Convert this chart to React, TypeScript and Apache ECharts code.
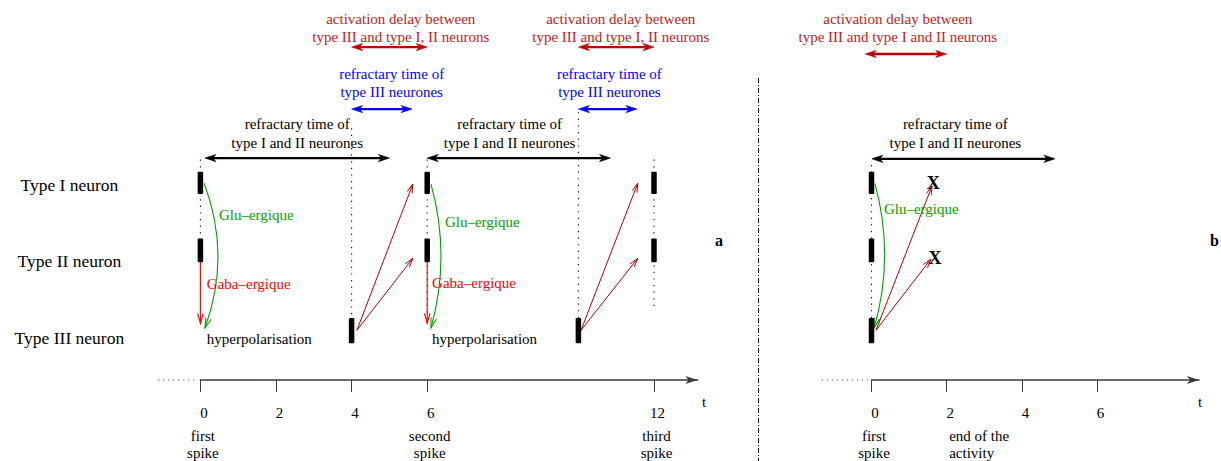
import React, { useEffect, useRef } from "react";
import * as echarts from "echarts";

// ---------- data ----------
const ROW_LABELS = ["Type III neuron", "Type II neuron", "Type I neuron"]; // rows 1, 2, 3
const ROW_VALUES = [1, 2, 3];
const TICKS_A = [0, 2, 4, 6, 12];
const TICKS_B = [0, 2, 4, 6];
const T_MAX_A = 13.15;
const T_MAX_B = 8.71;
const Y_MIN = 0.45;
const Y_MAX = 5.35;
const AXIS_NAME = "t";

// spikes: [time, row]
const SPIKES_A = [[0, 3], [0, 2], [4, 1], [6, 3], [6, 2], [10, 1], [12, 3], [12, 2]];
const SPIKES_B = [[0, 3], [0, 2], [0, 1]];

// dotted guides: [time, from, to]
const GUIDES_A = [[0, 3.33, 1.19], [4, 3.74, 1.26], [6, 3.33, 1.19], [10, 3.95, 1.26], [12, 3.33, 1.4]];
const GUIDES_B = [[0, 3.26, 1.24]];

// type III -> type I / II projections: [t0, v0, t1, v1]
const PROJ_A = [
  [4.14, 1.1, 5.62, 3.01], [4.14, 1.1, 5.62, 2.04],
  [10.07, 1.1, 11.57, 3.02], [10.07, 1.1, 11.57, 2.04],
];
const PROJ_B = [[0.12, 1.1, 1.61, 2.985], [0.12, 1.1, 1.58, 2.03]];

// glutamatergic curves: [t0, v0, tc, vc, t1, v1]
const GLU_A = [[0.1, 3.02, 0.82, 2.07, 0.12, 1.13], [6.1, 3.01, 6.63, 2.07, 6.1, 1.13]];
const GLU_B = [[0.09, 3.02, 0.62, 2.07, 0.07, 1.13]];

// gabaergic arrows: [t, v0, v1]
const GABA_A = [[0, 2.0, 1.19], [6, 2.0, 1.19]];

// failed activations: [t, v]
const FAILS_B = [[1.64, 3.02], [1.69, 2.04]];

// annotation intervals: [from, to, label centre]
const DELAY_A = [[4, 6, 5.3], [10, 12, 11.12]];
const DELAY_B = [[-0.17, 2.0, 0.7]];
const REFR3_A = [[4, 5.6, 5.06], [10, 11.55, 10.82]];
const REFR12_A = [[0.12, 5.0, 2.56], [6, 10.85, 8.18]];
const REFR12_B = [[0.01, 4.88, 2.23]];

// in-diagram labels: [t, v]
const GLU_LABELS_A = [[0.49, 2.61], [6.47, 2.51]];
const GLU_LABELS_B = [[0.33, 2.68]];
const GABA_LABELS_A = [[0.17, 1.7], [6.13, 1.72]];
const HYPER_LABELS_A = [[0.17, 0.99], [6.13, 0.99]];

// spike names under the time axis
const EVENT_T_A = [[0], [6], [12]];
const EVENT_NAMES_A = ["first\nspike", "second\nspike", "third\nspike"];
const EVENT_T_B = [[0], [2]];
const EVENT_NAMES_B = ["first\nspike", "end of the\nactivity"];
const EVENT_ALIGN_B = ["center", "left"];

// dotted lead-in of the time axes: [from, to]
const LEAD_A = [[-1.12, -0.06]];
const LEAD_B = [[-1.32, -0.04]];

// ---------- styles ----------
const FONT = "'Liberation Serif', 'Times New Roman', serif";
const SPIKE_EXTENT: Record<number, [number, number]> = { 3: [-0.12, 0.17], 2: [-0.01, 0.3], 1: [-0.07, 0.26] };
const RED_TEXT = "#c41a1a";
const RED_LINE = "#c00000";
const BLUE = "#0000ff";
const GREEN = "#00a000";
const GABA = "#ff0000";
const PROJ = "#b00000";

function head(x1: number, y1: number, x2: number, y2: number, len: number, half: number) {
  const dx = x2 - x1, dy = y2 - y1;
  const L = Math.hypot(dx, dy) || 1;
  const ux = dx / L, uy = dy / L;
  const bx = x2 - ux * len, by = y2 - uy * len;
  return {
    left: [bx - uy * half, by + ux * half],
    tip: [x2, y2],
    right: [bx + uy * half, by - ux * half],
    notch: [x2 - ux * len * 0.72, y2 - uy * len * 0.72],
  };
}

function custom(grid: number, data: number[][], draw: (d: number[], api: any, i: number) => any) {
  return {
    type: "custom",
    coordinateSystem: "cartesian2d",
    xAxisIndex: grid,
    yAxisIndex: grid,
    data,
    silent: true,
    clip: false,
    renderItem: (params: any, api: any) => draw(data[params.dataIndex], api, params.dataIndex),
  };
}

function spikes(grid: number, data: number[][]) {
  return custom(grid, data, (d, api) => {
    const [t, row] = d;
    const [lo, hi] = SPIKE_EXTENT[row];
    const p1 = api.coord([t, row + hi]);
    const p2 = api.coord([t, row + lo]);
    return {
      type: "rect",
      z2: 10,
      shape: { x: p1[0] - 2.75, y: p1[1], width: 5.5, height: p2[1] - p1[1], r: 1 },
      style: { fill: "#000" },
    };
  });
}

function guides(grid: number, data: number[][]) {
  return custom(grid, data, (d, api) => {
    const p1 = api.coord([d[0], d[1]]);
    const p2 = api.coord([d[0], d[2]]);
    return {
      type: "line",
      shape: { x1: p1[0], y1: p1[1], x2: p2[0], y2: p2[1] },
      style: { stroke: "#000", lineWidth: 1.1, lineDash: [1.2, 5.4], fill: "none" },
    };
  });
}

function openArrow(p0: number[], p1: number[], color: string, width: number, len: number, half: number) {
  const h = head(p0[0], p0[1], p1[0], p1[1], len, half);
  return [
    { type: "line", shape: { x1: p0[0], y1: p0[1], x2: p1[0], y2: p1[1] }, style: { stroke: color, lineWidth: width, fill: "none" } },
    { type: "polyline", shape: { points: [h.left, h.tip, h.right] }, style: { stroke: color, lineWidth: width, fill: "none" } },
  ];
}

function projections(grid: number, data: number[][]) {
  return custom(grid, data, (d, api) => {
    const p0 = api.coord([d[0], d[1]]);
    const p1 = api.coord([d[2], d[3]]);
    return { type: "group", children: openArrow(p0, p1, PROJ, 1, 9, 2.6) };
  });
}

function gaba(grid: number, data: number[][]) {
  return custom(grid, data, (d, api) => {
    const p0 = api.coord([d[0], d[1]]);
    const p1 = api.coord([d[0], d[2]]);
    return { type: "group", children: openArrow(p0, p1, GABA, 1.1, 10, 2.8) };
  });
}

function glu(grid: number, data: number[][]) {
  return custom(grid, data, (d, api) => {
    const p0 = api.coord([d[0], d[1]]);
    const c = api.coord([d[2], d[3]]);
    const p1 = api.coord([d[4], d[5]]);
    const h = head(c[0], c[1], p1[0], p1[1], 10, 2.8);
    return {
      type: "group",
      children: [
        {
          type: "bezierCurve",
          shape: { x1: p0[0], y1: p0[1], x2: p1[0], y2: p1[1], cpx1: c[0], cpy1: c[1] },
          style: { stroke: GREEN, lineWidth: 1.1, fill: "none" },
        },
        { type: "polyline", shape: { points: [h.left, h.tip, h.right] }, style: { stroke: GREEN, lineWidth: 1.1, fill: "none" } },
      ],
    };
  });
}

function labels(grid: number, data: number[][], text: string, color: string) {
  return custom(grid, data, (d, api) => {
    const p = api.coord([d[0], d[1]]);
    return {
      type: "text",
      x: p[0],
      y: p[1],
      style: { text, fill: color, fontSize: 15, fontFamily: FONT, align: "left", verticalAlign: "middle" },
    };
  });
}

function fails(grid: number, data: number[][]) {
  return custom(grid, data, (d, api) => {
    const p = api.coord([d[0], d[1]]);
    return {
      type: "text",
      x: p[0],
      y: p[1],
      z2: 5,
      style: { text: "X", fill: "#000", fontSize: 18, fontWeight: "bold", fontFamily: FONT, align: "center", verticalAlign: "middle" },
    };
  });
}

function interval(grid: number, data: number[][], level: number, textLevel: number, text: string, lineColor: string, textColor: string) {
  return custom(grid, data, (d, api) => {
    const [a, b, at] = d;
    const p0 = api.coord([a, level]);
    const p1 = api.coord([b, level]);
    const h1 = head(p0[0], p0[1], p1[0], p1[1], 11, 3.6);
    const h0 = head(p1[0], p1[1], p0[0], p0[1], 11, 3.6);
    const tp = api.coord([at, textLevel]);
    return {
      type: "group",
      children: [
        { type: "line", shape: { x1: h0.notch[0], y1: h0.notch[1], x2: h1.notch[0], y2: h1.notch[1] }, style: { stroke: lineColor, lineWidth: 2.3, fill: "none" } },
        { type: "polygon", shape: { points: [h1.left, h1.tip, h1.right, h1.notch] }, style: { fill: lineColor, stroke: lineColor, lineWidth: 0.6 } },
        { type: "polygon", shape: { points: [h0.left, h0.tip, h0.right, h0.notch] }, style: { fill: lineColor, stroke: lineColor, lineWidth: 0.6 } },
        {
          type: "text",
          x: tp[0],
          y: tp[1],
          style: { text, fill: textColor, fontSize: 15, fontFamily: FONT, align: "center", verticalAlign: "middle", lineHeight: 18.5 },
        },
      ],
    };
  });
}

function events(grid: number, data: number[][], names: string[], aligns?: string[]) {
  return custom(grid, data, (d, api, i) => {
    const p = api.coord([d[0], Y_MIN]);
    return {
      type: "text",
      x: p[0] + 2.5,
      y: p[1] + 47,
      style: {
        text: names[i],
        fill: "#000",
        fontSize: 15,
        fontFamily: FONT,
        align: aligns ? aligns[i] : "center",
        verticalAlign: "top",
        lineHeight: 17.5,
      },
    };
  });
}

function axisName(grid: number, tMax: number, dx: number) {
  return custom(grid, [[tMax]], (d, api) => {
    const p = api.coord([d[0], Y_MIN]);
    return {
      type: "text",
      x: p[0] + dx,
      y: p[1] + 22,
      style: { text: AXIS_NAME, fill: "#000", fontSize: 15, fontFamily: FONT, align: "center", verticalAlign: "middle" },
    };
  });
}

function lead(grid: number, data: number[][]) {
  return custom(grid, data, (d, api) => {
    const p0 = api.coord([d[0], Y_MIN]);
    const p1 = api.coord([d[1], Y_MIN]);
    return {
      type: "line",
      shape: { x1: p0[0], y1: p0[1], x2: p1[0], y2: p1[1] },
      style: { stroke: "#555", lineWidth: 1.2, lineDash: [1.2, 3.8], fill: "none" },
    };
  });
}

function timeAxis(grid: number, max: number, ticks: number[]) {
  return {
    type: "value",
    gridIndex: grid,
    min: 0,
    max,
    axisLine: { show: true, symbol: ["none", "arrow"], symbolSize: [6, 12], lineStyle: { color: "#3a3a3a", width: 1.6 } },
    axisTick: { show: true, customValues: ticks, length: 12, inside: false, lineStyle: { color: "#3a3a3a", width: 1 } },
    axisLabel: {
      show: true,
      customValues: ticks,
      margin: 25,
      color: "#000",
      fontSize: 15,
      fontFamily: FONT,
      padding: [0, 0, 0, 7],
    },
    splitLine: { show: false },
  };
}

function rowAxis(grid: number, showLabels: boolean) {
  return {
    type: "value",
    gridIndex: grid,
    min: Y_MIN,
    max: Y_MAX,
    axisLine: { show: false },
    axisTick: { show: false },
    splitLine: { show: false },
    axisLabel: showLabels
      ? {
          show: true,
          customValues: ROW_VALUES,
          formatter: (v: number) => ROW_LABELS[Math.round(v) - 1],
          margin: 131,
          align: "center",
          color: "#000",
          fontSize: 17.5,
          fontFamily: FONT,
        }
      : { show: false },
  };
}

const DELAY_TEXT_A = "activation delay between\ntype III and type I, II neurons";
const DELAY_TEXT_B = "activation delay between\ntype III and type I and II neurons";
const REFR3_TEXT = "refractary time of\ntype III neurones";
const REFR12_TEXT = "refractary time of\ntype I and II neurones";

const option: any = {
  animation: false,
  backgroundColor: "#fff",
  textStyle: { fontFamily: FONT },
  grid: [
    { left: 200.4, top: 5, width: T_MAX_A * 37.8, height: 375 },
    { left: 871.5, top: 5, width: T_MAX_B * 37.6, height: 375 },
  ],
  xAxis: [timeAxis(0, T_MAX_A, TICKS_A), timeAxis(1, T_MAX_B, TICKS_B)],
  yAxis: [rowAxis(0, true), rowAxis(1, false)],
  graphic: [
    {
      type: "line",
      shape: { x1: 758.5, y1: 78, x2: 758.5, y2: 461 },
      style: { stroke: "#000", lineWidth: 1, lineDash: [5, 2, 1, 2] },
      silent: true,
    },
    { type: "text", x: 719, y: 240, style: { text: "a", fontSize: 16, fontWeight: "bold", fontFamily: FONT, fill: "#000", align: "center", verticalAlign: "middle" } },
    { type: "text", x: 1214.5, y: 240, style: { text: "b", fontSize: 16, fontWeight: "bold", fontFamily: FONT, fill: "#000", align: "center", verticalAlign: "middle" } },
  ],
  series: [
    lead(0, LEAD_A),
    lead(1, LEAD_B),
    axisName(0, T_MAX_A, 6.5),
    axisName(1, T_MAX_B, 1),
    guides(0, GUIDES_A),
    guides(1, GUIDES_B),
    gaba(0, GABA_A),
    glu(0, GLU_A),
    glu(1, GLU_B),
    projections(0, PROJ_A),
    projections(1, PROJ_B),
    spikes(0, SPIKES_A),
    spikes(1, SPIKES_B),
    fails(1, FAILS_B),
    labels(0, GLU_LABELS_A, "Glu\u2013ergique", GREEN),
    labels(1, GLU_LABELS_B, "Glu\u2013ergique", GREEN),
    labels(0, GABA_LABELS_A, "Gaba\u2013ergique", GABA),
    labels(0, HYPER_LABELS_A, "hyperpolarisation", "#000"),
    interval(0, DELAY_A, 4.8, 5.05, DELAY_TEXT_A, RED_LINE, RED_TEXT),
    interval(1, DELAY_B, 4.71, 5.05, DELAY_TEXT_B, RED_LINE, RED_TEXT),
    interval(0, REFR3_A, 3.99, 4.33, REFR3_TEXT, BLUE, BLUE),
    interval(0, REFR12_A, 3.35, 3.67, REFR12_TEXT, "#000", "#000"),
    interval(1, REFR12_B, 3.34, 3.67, REFR12_TEXT, "#000", "#000"),
    events(0, EVENT_T_A, EVENT_NAMES_A),
    events(1, EVENT_T_B, EVENT_NAMES_B, EVENT_ALIGN_B),
  ],
};

export default function App() {
  const ref = useRef<HTMLDivElement>(null);
  useEffect(() => {
    if (!ref.current) return;
    const chart = echarts.init(ref.current, null, { renderer: "svg" });
    chart.setOption(option);
    return () => chart.dispose();
  }, []);
  return (
    <div
      ref={ref}
      style={{ position: "absolute", left: 0, top: 0, width: 1221, height: 461, background: "#fff" }}
    />
  );
}
